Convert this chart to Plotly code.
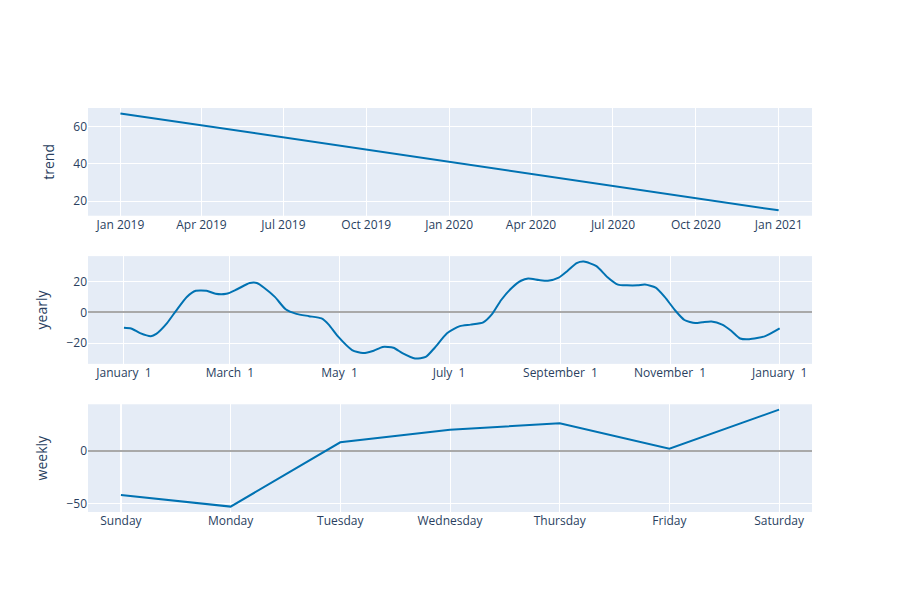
import pandas as pd
import plotly.graph_objects as go
from plotly.subplots import make_subplots

trend_dates = ["2019-01-01", "2021-01-01"]
trend_vals = [67, 15]

yearly_days = [0, 4, 9, 15, 18, 24, 29, 35, 40, 46, 51, 57, 63, 70, 74, 78, 84, 90,
               96, 103, 110, 114, 119, 127, 133, 139, 144, 150, 155, 162, 168, 173,
               180, 187, 193, 200, 205, 210, 216, 221, 225, 231, 236, 242, 247, 252,
               256, 263, 269, 275, 280, 286, 290, 296, 301, 307, 312, 318, 322, 327,
               333, 338, 343, 348, 357, 365]
yearly_vals = [-10, -10.5, -13.5, -15.5, -14, -7, 1, 10, 14, 14, 12, 12, 15, 19, 19,
               16, 10, 2, -1, -2.5, -4, -8, -15.5, -24.5, -26.5, -25, -22.5, -23,
               -26.5, -30, -29, -23, -13.5, -9, -8, -6.5, -1, 8, 16, 20.5, 22, 21,
               20.5, 22.5, 27, 32, 33, 30, 23, 18, 17.5, 17.5, 18, 16, 10, 1, -5, -7,
               -6.5, -6, -8, -12, -17, -17.5, -15.5, -10.5]

weekdays = ["Sunday", "Monday", "Tuesday", "Wednesday", "Thursday", "Friday", "Saturday"]
weekly_vals = [-42, -53, 8, 20, 26, 2, 39]

yearly_dates = pd.Timestamp("2017-01-01") + pd.to_timedelta(yearly_days, unit="D")

fig = make_subplots(rows=3, cols=1, vertical_spacing=0.1)
line = dict(color="#0072B2", width=2)
fig.add_trace(go.Scatter(x=pd.to_datetime(trend_dates), y=trend_vals, mode="lines",
                         line=line, showlegend=False), row=1, col=1)
fig.add_trace(go.Scatter(x=yearly_dates, y=yearly_vals, mode="lines", line=line,
                         line_shape="spline", line_smoothing=0.6, showlegend=False),
              row=2, col=1)
fig.add_trace(go.Scatter(x=list(range(7)), y=weekly_vals, mode="lines", line=line,
                         showlegend=False), row=3, col=1)

fig.update_yaxes(title_text="trend", row=1, col=1)
fig.update_yaxes(title_text="yearly", zeroline=True, zerolinecolor="#A9A9A9",
                 zerolinewidth=2, row=2, col=1)
fig.update_yaxes(title_text="weekly", zeroline=True, zerolinecolor="#A9A9A9",
                 zerolinewidth=2, row=3, col=1)
fig.update_xaxes(dtick="M3", tickformat="%b %Y", range=["2018-11-26", "2021-02-07"],
                 row=1, col=1)
fig.update_xaxes(dtick="M2", tickformat="%B %e", range=["2016-12-12", "2018-01-19"],
                 row=2, col=1)
fig.update_xaxes(tickvals=list(range(7)), ticktext=weekdays, range=[-0.3, 6.3],
                 row=3, col=1)

fig.update_layout(template="plotly", margin=dict(t=100, b=80, l=80, r=80))
fig.write_html("out.html")
